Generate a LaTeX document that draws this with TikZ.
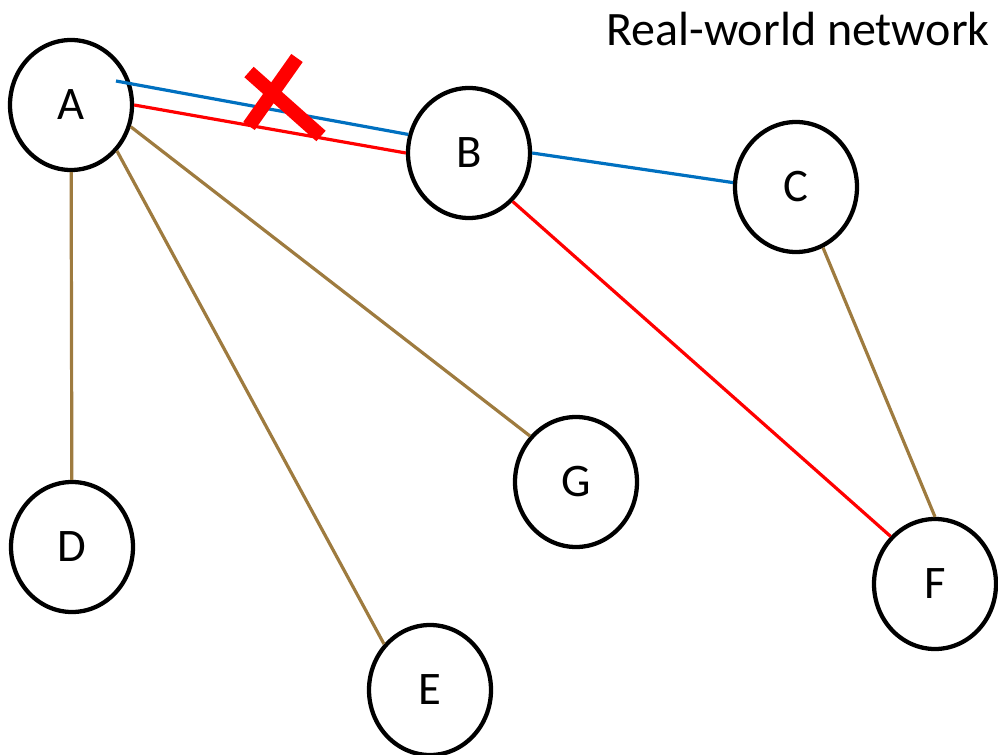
\documentclass[tikz,border=0pt]{standalone}
\usepackage{fontspec}
\setmainfont{Carlito}
\usepackage{tikz}
\usetikzlibrary{calc,shapes.geometric}
\definecolor{linkblue}{HTML}{0070C0}
\definecolor{linkred}{HTML}{FF0000}
\definecolor{linkbrown}{HTML}{9E7B3F}

\begin{document}
\begin{tikzpicture}[x=0.75pt,y=-0.75pt,
  vertex/.style={draw=black,ellipse,line width=3.2pt,fill=white,inner sep=0pt,
    minimum width=91.5pt,minimum height=97.5pt,font=\fontsize{35}{42}\selectfont},
  bluelink/.style={line width=2.4pt,linkblue},
  redlink/.style={line width=2.4pt,linkred},
  brownlink/.style={line width=2.4pt,linkbrown},
  cross/.style={line width=10.5pt,linkred}
]
\useasboundingbox (0,0) rectangle (998,755);
\node[anchor=base east,inner sep=0pt,font=\fontsize{36}{42}\selectfont] (title) at (990,46) {Real-world network};
\node[vertex] (A) at (71,105) {A};
\node[vertex] (B) at (469,153) {B};
\node[vertex] (C) at (796,187) {C};
\node[vertex] (D) at (72,547) {D};
\node[vertex] (E) at (430,690) {E};
\node[vertex] (F) at (935,584) {F};
\node[vertex] (G) at (576,482) {G};
\draw[bluelink] ($(A.center)+(45,-24)$) -- (B.163);
\draw[redlink] (A.east) -- (B.west);
\draw[bluelink] (B.east) -- (C.176);
\draw[redlink] (B.-48) -- (F.133);
\draw[brownlink] (A) -- (D);
\draw[brownlink] (A.-45) -- (E.135);
\draw[brownlink] (A.-20) -- (G.135);
\draw[brownlink] (C.-66) -- (F.north);
% removed link
\coordinate (cut) at (285,99);
\draw[cross] ($(cut)+(12,-41)$) -- ($(cut)+(-36,27)$);
\draw[cross] ($(cut)+(-36,-27)$) -- ($(cut)+(36,37)$);
\end{tikzpicture}
\end{document}
